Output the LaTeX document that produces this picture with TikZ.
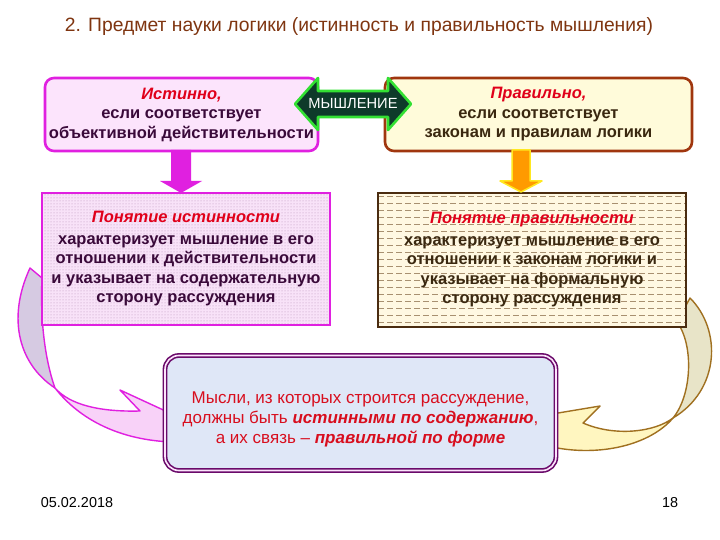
\documentclass[tikz,border=0pt]{standalone}
\usepackage{fontspec}
\setmainfont{Liberation Sans}
\usetikzlibrary{patterns,calc}
\definecolor{titlec}{HTML}{7F3510}
\definecolor{mag}{HTML}{E020E0}
\definecolor{pinkfill}{HTML}{FCE4FC}
\definecolor{purtext}{HTML}{3A0A3A}
\definecolor{redt}{HTML}{E0001A}
\definecolor{brownb}{HTML}{A0360E}
\definecolor{creamfill}{HTML}{FFFBDA}
\definecolor{browntext}{HTML}{3A2810}
\definecolor{darkgreen}{HTML}{0E3A2A}
\definecolor{brightgreen}{HTML}{33E033}
\definecolor{dotpink}{HTML}{F8E2F8}
\definecolor{dotc}{HTML}{B890B8}
\definecolor{dashbg}{HTML}{FFF8E2}
\definecolor{dashc}{HTML}{A89070}
\definecolor{darkbrown}{HTML}{4A2C10}
\definecolor{botpur}{HTML}{6A0A6A}
\definecolor{botfill}{HTML}{DFE7F7}
\definecolor{lpink}{HTML}{F8D2F8}
\definecolor{lgray}{HTML}{D6CAE2}
\definecolor{lyellow}{HTML}{FFF6C0}
\definecolor{lbeige}{HTML}{E8E4C8}
\definecolor{olivebrown}{HTML}{A07020}
\definecolor{arroworange}{HTML}{FF9A00}
\definecolor{glowyellow}{HTML}{FFE820}
\definecolor{redb}{HTML}{D80E1E}
\tikzset{
  topbox/.style={rounded corners=9pt, line width=2.6pt, minimum height=73pt, align=center, inner sep=0pt},
  txt/.style={font=\fontsize{16.5}{19.5}\selectfont\bfseries},
  curvepink/.style={draw=mag, line width=1.4pt, line join=round},
  curveyel/.style={draw=olivebrown, line width=1.4pt, line join=round},
}
\newcommand{\rtit}[1]{{\color{redt}\bfseries\itshape #1}}
\begin{document}
\begin{tikzpicture}[x=1pt,y=-1pt]
\useasboundingbox[fill=white] (0,0) rectangle (720,540);
% title
\node[text=titlec, font=\fontsize{19.3}{22}\selectfont] (title) at (359,27) {2. Предмет науки логики (истинность и правильность мышления)};
% curved arrows (behind)
\filldraw[curvepink, fill=lgray] (30,268) .. controls (6,320) and (20,365) .. (55,388) .. controls (45,360) and (40,320) .. (42,278) -- cycle;
\filldraw[curvepink, fill=lpink] (55,388) .. controls (80,420) and (120,440) .. (172,442) -- (172,414) -- (120,390) -- (140,411) .. controls (100,412) and (70,405) .. (55,388) -- cycle;
\filldraw[curveyel, fill=lbeige] (690,298) .. controls (722,330) and (720,390) .. (673,418) .. controls (692,395) and (694,345) .. (677,322) -- cycle;
\filldraw[curveyel, fill=lyellow] (673,418) .. controls (650,445) and (600,457) .. (552,447) -- (552,414) -- (600,406) -- (583,423) .. controls (615,437) and (655,432) .. (673,418) -- cycle;
% top boxes
\node[topbox, draw=mag, fill=pinkfill, minimum width=273pt, text=purtext, txt] (box1) at (181.5,114.5)
  {\rtit{Истинно,}\\ если соответствует\\ объективной действительности};
\node[topbox, draw=brownb, fill=creamfill, minimum width=307pt, text=browntext, txt] (box2) at (538.5,114.5)
  {\rtit{Правильно,}\\ если соответствует\\ законам и правилам логики};
% middle boxes
\node[draw=mag, line width=1.6pt, fill=dotpink, minimum width=288pt, minimum height=132pt, align=center, text=purtext, txt,
  path picture={\fill[pattern=dots, pattern color=dotc] (path picture bounding box.south west) rectangle (path picture bounding box.north east);}]
  (box3) at (186,259)
  {\rtit{Понятие истинности}\\[2pt] характеризует мышление в его\\ отношении к действительности\\ и указывает на содержательную\\ сторону рассуждения};
\node[draw=darkbrown, line width=1.8pt, fill=dashbg, minimum width=308pt, minimum height=134pt, align=center, text=browntext, txt,
  path picture={\foreach \k in {0,...,19}{\pgfmathsetmacro{\yy}{3+7*\k}
    \draw[dashc, line width=0.5pt, dash pattern=on 6pt off 3pt] ([yshift=-\yy pt]path picture bounding box.north west) -- ([yshift=-\yy pt]path picture bounding box.north east);}}]
  (box4) at (532,260)
  {\rtit{Понятие правильности}\\[2pt] характеризует мышление в его\\ отношении к законам логики и\\ указывает на формальную\\ сторону рассуждения};
% down arrows
\fill[mag] (171,150) -- (191,150) -- (191,181) -- (202,181) -- (181,193) -- (160,181) -- (171,181) -- cycle;
\filldraw[fill=arroworange, draw=glowyellow, line width=1.5pt, line join=round] (512,150) -- (530,150) -- (530,181) -- (542,181) -- (521,192) -- (500,181) -- (512,181) -- cycle;
% thinking double arrow
\filldraw[fill=darkgreen, draw=brightgreen, line width=2.6pt, line join=round]
  (295,104) -- (318,78) -- (318,91) -- (388,91) -- (388,78) -- (411,104) -- (388,130) -- (388,117) -- (318,117) -- (318,130) -- cycle;
\node[text=white, font=\fontsize{14.7}{16}\selectfont] (think) at (353,104) {МЫШЛЕНИЕ};
% bottom box
\node[draw=botpur, double=pinkfill, double distance=1.6pt, line width=1.6pt, rounded corners=14pt, fill=botfill,
  minimum width=391pt, minimum height=115pt] (box5) at (360.5,413) {};
\node[align=center, text=redb, font=\fontsize{17}{20}\selectfont] (msg) at (360.5,419)
  {Мысли, из которых строится рассуждение,\\ должны быть \textbf{\textit{истинными по содержанию}},\\ а их связь -- \textbf{\textit{правильной по форме}}};
% footer
\node[font=\fontsize{14.4}{16}\selectfont] (date) at (77,503) {05.02.2018};
\node[font=\fontsize{14.4}{16}\selectfont] (page) at (670,503) {18};
\end{tikzpicture}
\end{document}
